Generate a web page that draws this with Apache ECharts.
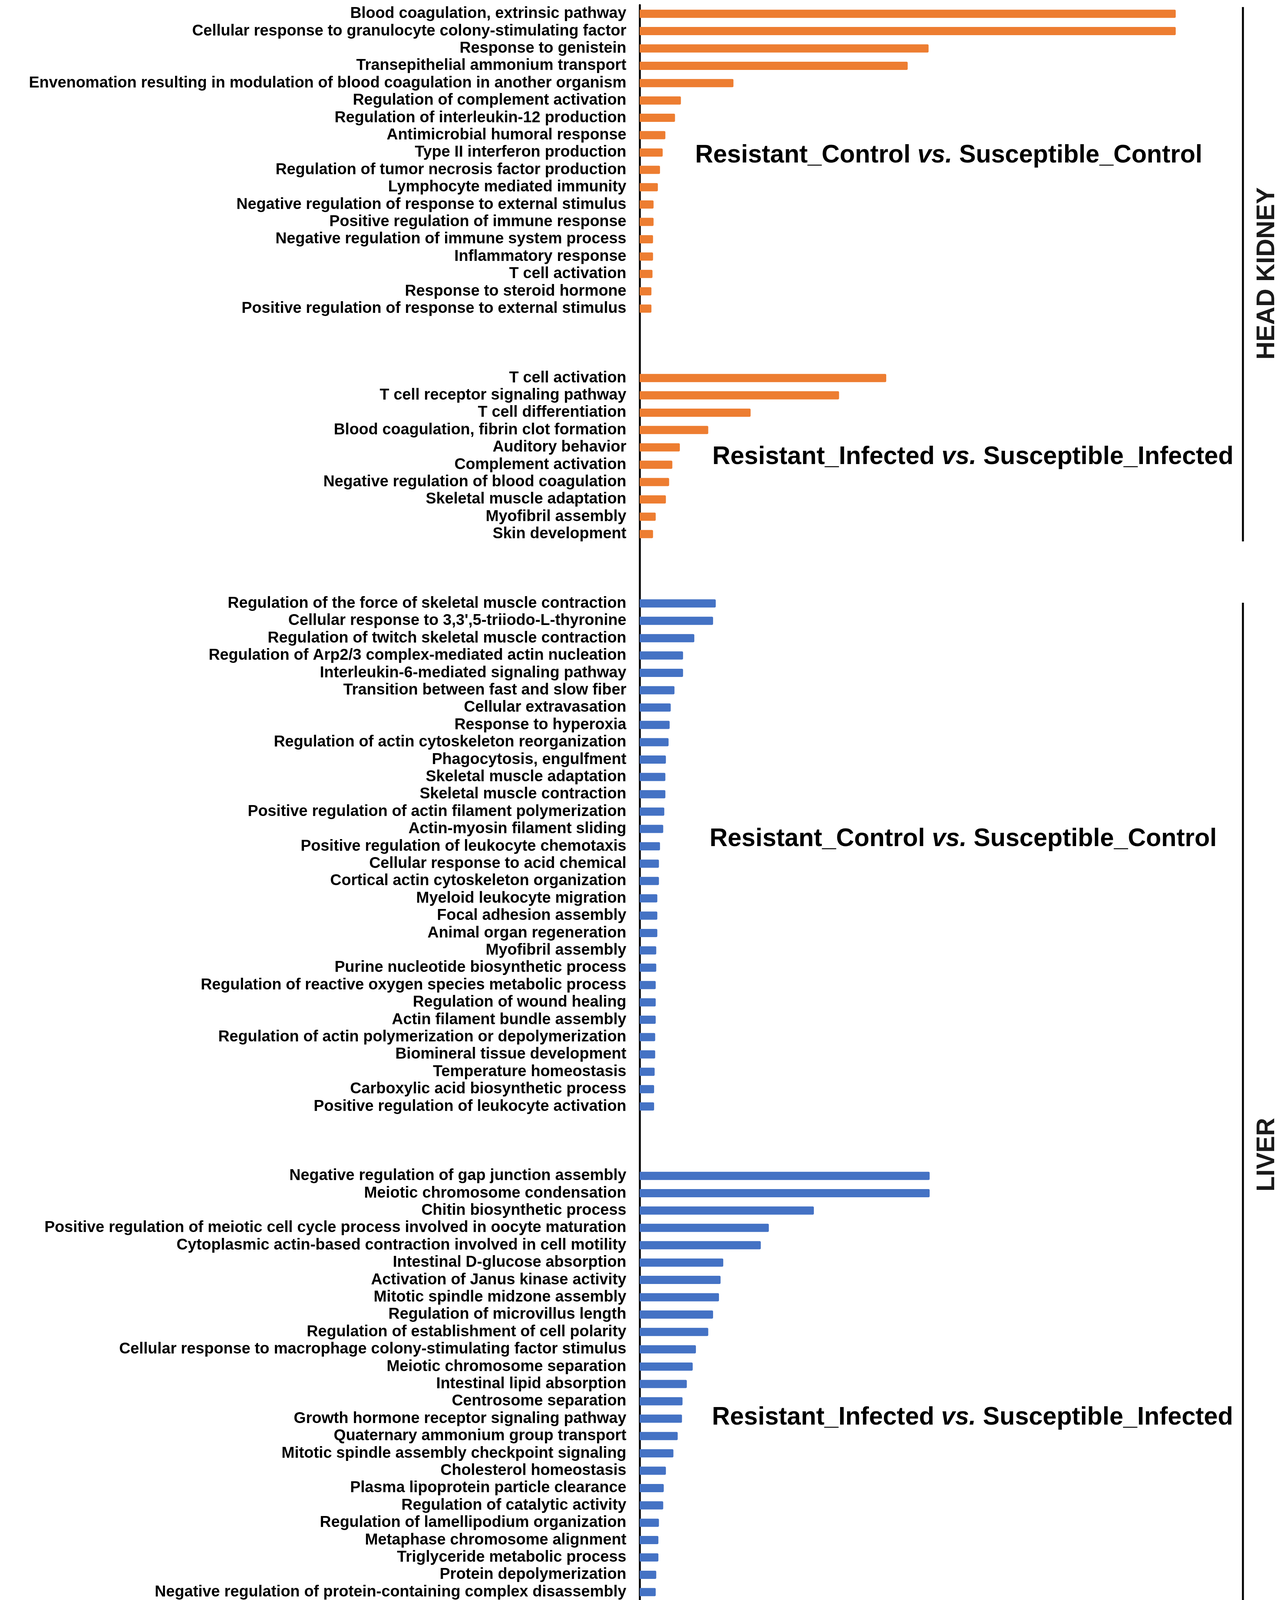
<!DOCTYPE html>
<html>
<head>
<meta charset="utf-8">
<script src="https://cdn.jsdelivr.net/npm/echarts@6/dist/echarts.min.js"></script>
<style>
html,body{margin:0;padding:0;background:#fff;}
#chart{width:3281px;height:4505px;}
</style>
</head>
<body>
<div id="chart"></div>
<script>
// ---------- DATA ----------
const hkControlLabels = [
  "Blood coagulation, extrinsic pathway",
  "Cellular response to granulocyte colony-stimulating factor",
  "Response to genistein",
  "Transepithelial ammonium transport",
  "Envenomation resulting in modulation of blood coagulation in another organism",
  "Regulation of complement activation",
  "Regulation of interleukin-12 production",
  "Antimicrobial humoral response",
  "Type II interferon production",
  "Regulation of tumor necrosis factor production",
  "Lymphocyte mediated immunity",
  "Negative regulation of response to external stimulus",
  "Positive regulation of immune response",
  "Negative regulation of immune system process",
  "Inflammatory response",
  "T cell activation",
  "Response to steroid hormone",
  "Positive regulation of response to external stimulus"
];
const hkControlValues = [100, 100, 53.9, 50.0, 17.5, 7.7, 6.6, 4.8, 4.3, 3.8, 3.4, 2.6, 2.6, 2.5, 2.5, 2.4, 2.2, 2.2];

const hkInfectedLabels = [
  "T cell activation",
  "T cell receptor signaling pathway",
  "T cell differentiation",
  "Blood coagulation, fibrin clot formation",
  "Auditory behavior",
  "Complement activation",
  "Negative regulation of blood coagulation",
  "Skeletal muscle adaptation",
  "Myofibril assembly",
  "Skin development"
];
const hkInfectedValues = [46.0, 37.2, 20.7, 12.8, 7.5, 6.1, 5.5, 4.9, 3.0, 2.5];

const liverControlLabels = [
  "Regulation of the force of skeletal muscle contraction",
  "Cellular response to 3,3',5-triiodo-L-thyronine",
  "Regulation of twitch skeletal muscle contraction",
  "Regulation of Arp2/3 complex-mediated actin nucleation",
  "Interleukin-6-mediated signaling pathway",
  "Transition between fast and slow fiber",
  "Cellular extravasation",
  "Response to hyperoxia",
  "Regulation of actin cytoskeleton reorganization",
  "Phagocytosis, engulfment",
  "Skeletal muscle adaptation",
  "Skeletal muscle contraction",
  "Positive regulation of actin filament polymerization",
  "Actin-myosin filament sliding",
  "Positive regulation of leukocyte chemotaxis",
  "Cellular response to acid chemical",
  "Cortical actin cytoskeleton organization",
  "Myeloid leukocyte migration",
  "Focal adhesion assembly",
  "Animal organ regeneration",
  "Myofibril assembly",
  "Purine nucleotide biosynthetic process",
  "Regulation of reactive oxygen species metabolic process",
  "Regulation of wound healing",
  "Actin filament bundle assembly",
  "Regulation of actin polymerization or depolymerization",
  "Biomineral tissue development",
  "Temperature homeostasis",
  "Carboxylic acid biosynthetic process",
  "Positive regulation of leukocyte activation"
];
const liverControlValues = [14.2, 13.7, 10.2, 8.1, 8.1, 6.5, 5.8, 5.6, 5.4, 4.9, 4.8, 4.8, 4.6, 4.4, 3.8, 3.6, 3.6, 3.3, 3.3, 3.3, 3.1, 3.1, 3.0, 3.0, 3.0, 2.9, 2.9, 2.8, 2.7, 2.7];

const liverInfectedLabels = [
  "Negative regulation of gap junction assembly",
  "Meiotic chromosome condensation",
  "Chitin biosynthetic process",
  "Positive regulation of meiotic cell cycle process involved in oocyte maturation",
  "Cytoplasmic actin-based contraction involved in cell motility",
  "Intestinal D-glucose absorption",
  "Activation of Janus kinase activity",
  "Mitotic spindle midzone assembly",
  "Regulation of microvillus length",
  "Regulation of establishment of cell polarity",
  "Cellular response to macrophage colony-stimulating factor stimulus",
  "Meiotic chromosome separation",
  "Intestinal lipid absorption",
  "Centrosome separation",
  "Growth hormone receptor signaling pathway",
  "Quaternary ammonium group transport",
  "Mitotic spindle assembly checkpoint signaling",
  "Cholesterol homeostasis",
  "Plasma lipoprotein particle clearance",
  "Regulation of catalytic activity",
  "Regulation of lamellipodium organization",
  "Metaphase chromosome alignment",
  "Triglyceride metabolic process",
  "Protein depolymerization",
  "Negative regulation of protein-containing complex disassembly",
  "Response to cAMP",
  "Negative regulation of supramolecular fiber organization",
  "Meiosis I cell cycle process",
  "Positive regulation of homotypic cell-cell adhesion",
  "Negative regulation of cytoskeleton organization"
];
const liverInfectedValues = [54.1, 54.1, 32.5, 24.1, 22.6, 15.6, 15.1, 14.8, 13.7, 12.8, 10.5, 9.9, 8.8, 8.0, 7.9, 7.1, 6.3, 4.9, 4.5, 4.4, 3.6, 3.5, 3.5, 3.1, 3.0, 2.8, 2.8, 2.8, 2.8, 2.8];

const xTicks = [0, 20, 40, 60, 80, 100];
const comparisonTitles = [
  ["Resistant_Control", "Susceptible_Control"],
  ["Resistant_Infected", "Susceptible_Infected"],
  ["Resistant_Control", "Susceptible_Control"],
  ["Resistant_Infected", "Susceptible_Infected"]
];
const tissueNames = ["HEAD KIDNEY", "LIVER"];
const xAxisTitle = "Fold enrichment";

// ---------- BUILD ROWS ----------
const GAP = 3;
const rowLabels = [];
const orangeData = [];
const blueData = [];
function addSection(labels, values, tissue, withGap) {
  labels.forEach((l, i) => {
    rowLabels.push(l);
    orangeData.push(tissue === 0 ? values[i] : null);
    blueData.push(tissue === 1 ? values[i] : null);
  });
  if (withGap) {
    for (let g = 0; g < GAP; g++) { rowLabels.push(""); orangeData.push(null); blueData.push(null); }
  }
}
addSection(hkControlLabels, hkControlValues, 0, true);
addSection(hkInfectedLabels, hkInfectedValues, 0, true);
addSection(liverControlLabels, liverControlValues, 1, true);
addSection(liverInfectedLabels, liverInfectedValues, 1, false);
const rowIds = rowLabels.map((_, i) => "r" + i);

// ---------- CHART ----------
const FONT = "'Liberation Sans', Arial, Helvetica, sans-serif";
const chart = echarts.init(document.getElementById('chart'), null, {renderer: 'canvas'});

function annotation(idx, x, y) {
  const t = comparisonTitles[idx];
  return {
    type: 'text', x: x, y: y, z: 100,
    style: {
      text: '{a|' + t[0] + ' }{b|vs.}{a| ' + t[1] + '}',
      rich: {
        a: {fontSize: 64, fontWeight: 'bold', fontFamily: FONT, fill: '#000'},
        b: {fontSize: 64, fontWeight: 'bold', fontStyle: 'italic', fontFamily: FONT, fill: '#000'}
      },
      align: 'left', verticalAlign: 'middle',
      textAlign: 'left', textVerticalAlign: 'middle'
    }
  };
}
function tissueLabel(name, x, y) {
  return {
    type: 'text', x: x, y: y, rotation: Math.PI / 2, z: 100,
    style: {
      text: name, fontSize: 64, fontWeight: 'bold', fontFamily: FONT, fill: '#1a1a1a',
      align: 'center', verticalAlign: 'middle',
      textAlign: 'center', textVerticalAlign: 'middle'
    }
  };
}
function vline(x, y1, y2) {
  return {type: 'line', z: 100, shape: {x1: x, y1: y1, x2: x, y2: y2}, style: {stroke: '#000', lineWidth: 5}};
}

const option = {
  backgroundColor: '#ffffff',
  animation: false,
  grid: {left: 1637, right: 272, top: 13, bottom: 185, containLabel: false},
  xAxis: {
    type: 'value', min: 0, max: 100, interval: 20,
    name: xAxisTitle, nameLocation: 'middle', nameGap: 113,
    nameTextStyle: {fontSize: 65, fontWeight: 'bold', fontFamily: FONT, color: '#000'},
    axisLine: {show: true, lineStyle: {color: '#000', width: 5}},
    axisTick: {show: true, length: 17, lineStyle: {color: '#000', width: 3.5}},
    axisLabel: {show: true, margin: 36, fontSize: 57, fontWeight: 'bold', fontFamily: FONT, color: '#000',
      formatter: v => (xTicks.indexOf(v) >= 0 ? String(v) : '')},
    splitLine: {show: false}
  },
  yAxis: {
    type: 'category', inverse: true, data: rowIds,
    axisLine: {show: true, onZero: false, lineStyle: {color: '#000', width: 5}},
    axisTick: {show: false},
    axisLabel: {show: true, interval: 0, margin: 34, fontSize: 40, fontWeight: 'bold', fontFamily: FONT, color: '#000',
      formatter: (v, i) => rowLabels[i]},
    splitLine: {show: false}
  },
  series: [
    {type: 'bar', name: 'Head kidney', data: orangeData, barWidth: 21, barGap: '-100%',
     itemStyle: {color: '#ED7D31', borderRadius: [0, 3, 3, 0]}},
    {type: 'bar', name: 'Liver', data: blueData, barWidth: 21, barGap: '-100%',
     itemStyle: {color: '#4472C4', borderRadius: [0, 3, 3, 0]}}
  ],
  graphic: [
    annotation(0, 1779, 398),
    annotation(1, 1823, 1170),
    annotation(2, 1816, 2148),
    annotation(3, 1822, 3629),
    vline(3181, 18, 1386),
    vline(3181, 1543, 4323),
    tissueLabel(tissueNames[0], 3243, 700),
    tissueLabel(tissueNames[1], 3243, 2956)
  ]
};
chart.setOption(option);
</script>
</body>
</html>
